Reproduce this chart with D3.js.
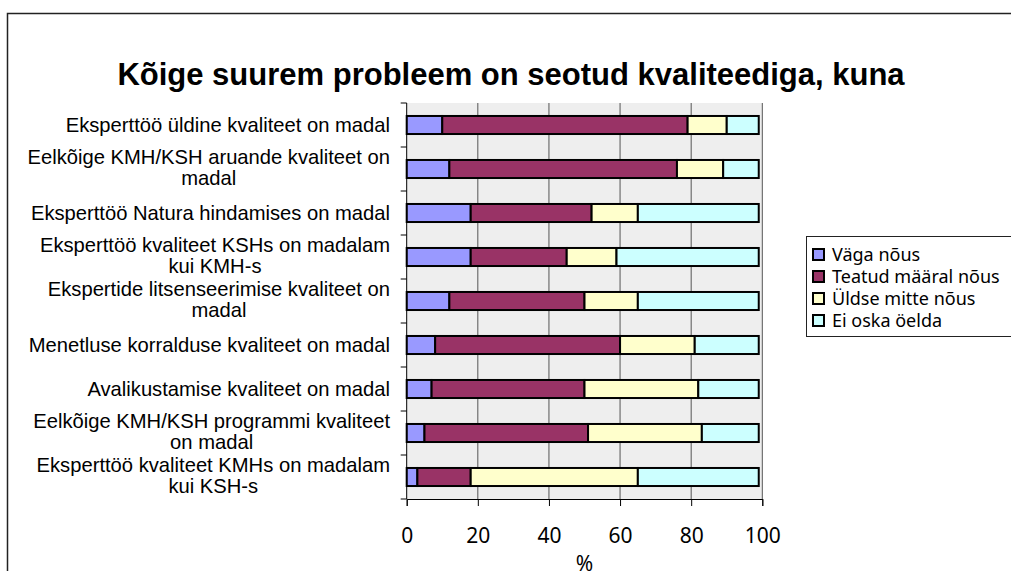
<!DOCTYPE html>
<html>
<head>
<meta charset="utf-8">
<script src="https://cdn.jsdelivr.net/npm/d3@7"></script>
<style>
  body { margin: 0; background: #fff; }
  svg { display: block; }
</style>
</head>
<body>
<div id="chart"></div>
<script>
// andmed
const categories = [
  ['Eksperttöö üldine kvaliteet on madal'],
  ['Eelkõige KMH/KSH aruande kvaliteet on', 'madal'],
  ['Eksperttöö Natura hindamises on madal'],
  ['Eksperttöö kvaliteet KSHs on madalam', 'kui KMH-s'],
  ['Ekspertide litsenseerimise kvaliteet on', 'madal'],
  ['Menetluse korralduse kvaliteet on madal'],
  ['Avalikustamise kvaliteet on madal'],
  ['Eelkõige KMH/KSH programmi kvaliteet', 'on madal'],
  ['Eksperttöö kvaliteet KMHs on madalam', 'kui KSH-s']
]
const seriesNames = ['Väga nõus', 'Teatud määral nõus', 'Üldse mitte nõus', 'Ei oska öelda']
const vagaNous    = [10, 12, 18, 18, 12, 8, 7, 5, 3]
const teatudNous  = [69, 64, 34, 27, 38, 52, 43, 46, 15]
const uldseMitte  = [11, 13, 13, 14, 15, 21, 32, 32, 47]
const eiOska      = [9, 10, 34, 40, 34, 18, 17, 16, 34]
const xTicks = [0, 20, 40, 60, 80, 100]
const colors = ['#9999ff', '#993366', '#ffffcc', '#ccffff']

const W = 1011, H = 571
const plot = {left: 406.7, right: 762.3, top: 103, bottom: 499}
const tahoma = 'Noto Sans, DejaVu Sans, sans-serif'
const arial = 'Liberation Sans, Arial, sans-serif'

const svg = d3.select('#chart').append('svg')
  .attr('width', W)
  .attr('height', H)

// raam
svg.append('rect')
  .attr('x', 7.5).attr('y', 13.5)
  .attr('width', 1100).attr('height', 700)
  .attr('fill', '#fff')
  .attr('stroke', '#222')
  .attr('stroke-width', 1.5)

svg.append('text')
  .attr('x', 511).attr('y', 85)
  .attr('text-anchor', 'middle')
  .style('font-family', arial)
  .style('font-weight', 'bold')
  .style('font-size', '31px')
  .text('Kõige suurem probleem on seotud kvaliteediga, kuna')

const rows = categories.map((c, i) => ({
  key: 'r' + i,
  label: c,
  vals: [vagaNous[i], teatudNous[i], uldseMitte[i], eiOska[i]]
}))

const x = d3.scaleLinear().domain([0, 100]).range([plot.left, plot.right])
const y = d3.scaleBand()
  .domain(rows.map(d => d.key))
  .range([plot.top, plot.bottom])
  .paddingInner(0.59)
  .paddingOuter(0.295)

// taust
svg.append('rect')
  .attr('x', plot.left).attr('y', plot.top)
  .attr('width', plot.right - plot.left)
  .attr('height', plot.bottom - plot.top)
  .attr('fill', '#eeeeee')

// ruudustik
svg.append('g')
  .selectAll('line')
  .data(xTicks.slice(1))
  .enter()
  .append('line')
  .attr('x1', d => x(d)).attr('x2', d => x(d))
  .attr('y1', plot.top).attr('y2', plot.bottom)
  .attr('stroke', '#555')
  .attr('stroke-width', 1)

// tulbad
const stack = d3.stack().keys([0, 1, 2, 3]).value((d, k) => d.vals[k])
const layers = stack(rows)

svg.append('g')
  .selectAll('g')
  .data(layers)
  .enter()
  .append('g')
  .attr('fill', (d, i) => colors[i])
  .selectAll('rect')
  .data(d => d)
  .enter()
  .append('rect')
  .attr('x', d => x(d[0]))
  .attr('width', d => x(d[1]) - x(d[0]))
  .attr('y', d => y(d.data.key))
  .attr('height', y.bandwidth())
  .attr('stroke', '#000')
  .attr('stroke-width', 2)

// teljed
const xAxis = d3.axisBottom(x).tickValues(xTicks).tickSize(7).tickPadding(22)
const gx = svg.append('g')
  .attr('transform', 'translate(0,' + plot.bottom + ')')
  .call(xAxis)
gx.select('.domain').attr('stroke', '#000')
gx.selectAll('text')
  .style('font-family', tahoma)
  .style('font-size', '21px')
  .attr('fill', '#000')

const bounds = d3.range(rows.length + 1).map(i => plot.top + i * y.step())
const gy = svg.append('g')
gy.append('line')
  .attr('x1', plot.left).attr('x2', plot.left)
  .attr('y1', plot.top).attr('y2', plot.bottom)
  .attr('stroke', '#000')
gy.selectAll('.tk')
  .data(bounds)
  .enter()
  .append('line')
  .attr('x1', plot.left - 6).attr('x2', plot.left)
  .attr('y1', d => d).attr('y2', d => d)
  .attr('stroke', '#000')

// kategooriate nimed
const labelRight = 390
rows.forEach(r => {
  const cy = y(r.key) + y.bandwidth() / 2
  const g = svg.append('g')
  const n = r.label.length
  const lh = 21
  const texts = r.label.map((line, j) => g.append('text')
    .attr('y', cy + (j - (n - 1) / 2) * lh - (n > 1 ? 2 : 0))
    .attr('dy', '0.35em')
    .attr('text-anchor', 'middle')
    .style('font-family', arial)
    .style('font-size', '20.2px')
    .text(line))
  const maxW = d3.max(texts, t => t.node().getComputedTextLength())
  texts.forEach(t => t.attr('x', labelRight - maxW / 2))
})

svg.append('text')
  .attr('x', (plot.left + plot.right) / 2)
  .attr('y', 571)
  .attr('text-anchor', 'middle')
  .style('font-family', tahoma)
  .style('font-size', '21px')
  .text('%')

// legend
const legend = svg.append('g').attr('transform', 'translate(806,236)')
legend.append('rect')
  .attr('x', 0.5).attr('y', 0.5)
  .attr('width', 300).attr('height', 100)
  .attr('fill', '#fff')
  .attr('stroke', '#222')
legend.selectAll('.sw')
  .data(seriesNames)
  .enter()
  .append('rect')
  .attr('x', 7).attr('y', (d, i) => 13 + i * 22)
  .attr('width', 11).attr('height', 11)
  .attr('fill', (d, i) => colors[i])
  .attr('stroke', '#000')
  .attr('stroke-width', 2)
legend.selectAll('.lt')
  .data(seriesNames)
  .enter()
  .append('text')
  .attr('x', 26).attr('y', (d, i) => 18.5 + i * 22)
  .attr('dy', '0.35em')
  .style('font-family', tahoma)
  .style('font-size', '18px')
  .text(d => d)
</script>
</body>
</html>
